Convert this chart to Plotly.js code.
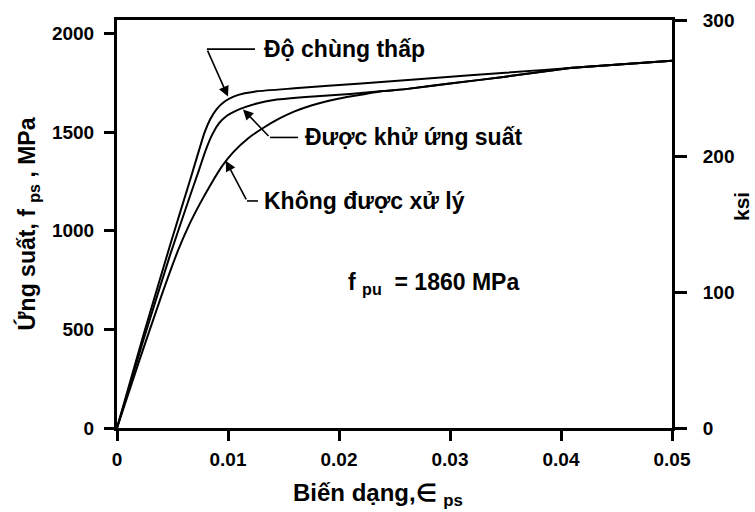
<!DOCTYPE html>
<html>
<head>
<meta charset="utf-8">
<script src="https://cdn.plot.ly/plotly-3.0.1.min.js"></script>
<style>html,body{margin:0;padding:0;background:#fff;}#chart{width:755px;height:512px;}</style>
</head>
<body>
<div id="chart"></div>
<script>
// Strain (epsilon_ps) vs stress (f_ps, MPa) for prestressing strand
const lowRelaxStrain = [0, 0.0024, 0.0048, 0.0066, 0.0074, 0.0079, 0.0084, 0.009, 0.0097, 0.0105, 0.0115, 0.0126, 0.016, 0.022, 0.028, 0.035, 0.042, 0.05];
const lowRelaxStress = [0, 475, 930, 1260, 1410, 1500, 1565, 1618, 1655, 1680, 1697, 1707, 1722, 1747, 1772, 1801, 1830, 1862];

const stressRelievedStrain = [0, 0.0024, 0.0048, 0.0066, 0.0074, 0.008, 0.0086, 0.0092, 0.0099, 0.0107, 0.0116, 0.0126, 0.014, 0.017, 0.021, 0.024, 0.026, 0.03, 0.035, 0.041, 0.042, 0.05];
const stressRelievedStress = [0, 450, 880, 1180, 1310, 1410, 1490, 1545, 1583, 1608, 1628, 1645, 1662, 1678, 1693, 1708, 1718, 1746, 1781, 1826, 1830, 1862];

const asDrawnStrain = [0, 0.002, 0.004, 0.0055, 0.0065, 0.0075, 0.0085, 0.0095, 0.0105, 0.0118, 0.0132, 0.0146, 0.016, 0.0175, 0.019, 0.0205, 0.022, 0.024, 0.026, 0.03, 0.035, 0.041, 0.042, 0.05];
const asDrawnStress = [0, 340, 670, 900, 1030, 1140, 1240, 1330, 1400, 1468, 1522, 1568, 1605, 1635, 1658, 1676, 1690, 1708, 1718, 1746, 1781, 1826, 1830, 1862];

const MPA_PER_KSI = 6.894757;

const xTickVals = [0, 0.01, 0.02, 0.03, 0.04, 0.05];
const xTickText = ["0", "0.01", "0.02", "0.03", "0.04", "0.05"];
const yTickVals = [0, 500, 1000, 1500, 2000];
const y2TickVals = [0, 100, 200, 300];

// Callout labels with leader lines
const labelTexts = ["Độ chùng thấp", "Được khử ứng suất", "Không được xử lý"];
const labelTipX = [0.0100, 0.01135, 0.0098];
const labelTipY = [1680, 1615, 1355];
const labelCornerX = [0.0081, 0.01378, 0.01171];
const labelCornerY = [1921, 1473, 1151];
const labelLineEndX = [0.01243, 0.01631, 0.0127];
const labelTextX = [0.01306, 0.01676, 0.01306];

const fpuText = "f&nbsp;<sub>pu</sub>&nbsp;&nbsp;= 1860 MPa";
const fpuX = 0.0206, fpuY = 735;

const xTitle = "Biến dạng,∈ <sub>ps</sub>";
const yTitle = "Ứng suất, f <sub>ps</sub> , MPa";
const y2Title = "ksi";

const FONT = "Liberation Sans, Arial, sans-serif";
const lineStyle = {color: "#000", width: 2, shape: "spline", smoothing: 0.5};

const traces = [
  {x: lowRelaxStrain, y: lowRelaxStress, mode: "lines", line: lineStyle, name: labelTexts[0], hoverinfo: "skip"},
  {x: stressRelievedStrain, y: stressRelievedStress, mode: "lines", line: lineStyle, name: labelTexts[1], hoverinfo: "skip"},
  {x: asDrawnStrain, y: asDrawnStress, mode: "lines", line: lineStyle, name: labelTexts[2], hoverinfo: "skip"},
  // same low-relaxation curve expressed in ksi, hidden, to carry the right-hand axis
  {x: lowRelaxStrain, y: lowRelaxStress.map(v => v / MPA_PER_KSI), yaxis: "y2", mode: "lines",
   line: {color: "rgba(0,0,0,0)", width: 0}, hoverinfo: "skip", showlegend: false}
];

const W = 755, H = 512, ML = 117, MR = 83, MT = 20, MB = 84;
const pxToPaperX = px => (px - ML) / (W - ML - MR);
const pxToPaperY = py => (H - MB - py) / (H - MT - MB);

const annotations = [];
const shapes = [];
for (let i = 0; i < labelTexts.length; i++) {
  annotations.push({
    x: labelTipX[i], y: labelTipY[i], xref: "x", yref: "y",
    ax: labelCornerX[i], ay: labelCornerY[i], axref: "x", ayref: "y",
    text: "", showarrow: true, arrowhead: 2, arrowsize: 1.3, arrowwidth: 1.6, arrowcolor: "#000", standoff: 0
  });
  shapes.push({type: "line", xref: "x", yref: "y", x0: labelCornerX[i], x1: labelLineEndX[i], y0: labelCornerY[i], y1: labelCornerY[i], line: {color: "#000", width: 1.6}});
  annotations.push({
    x: labelTextX[i], y: labelCornerY[i], xref: "x", yref: "y", xanchor: "left", yanchor: "middle",
    text: "<b>" + labelTexts[i] + "</b>", showarrow: false, font: {family: FONT, size: 23, color: "#000"}
  });
}
annotations.push({
  x: fpuX, y: fpuY, xref: "x", yref: "y", xanchor: "left", yanchor: "middle",
  text: "<b>" + fpuText + "</b>", showarrow: false, font: {family: FONT, size: 23, color: "#000"}
});
// x-axis title (slightly left of plot centre, as in the original)
annotations.push({
  x: pxToPaperX(378), y: pxToPaperY(494), xref: "paper", yref: "paper", showarrow: false,
  text: "<b>" + xTitle + "</b>", font: {family: FONT, size: 24, color: "#000"},
  xanchor: "center", yanchor: "middle"
});
// right-hand axis title
annotations.push({
  x: pxToPaperX(741), y: pxToPaperY(207), xref: "paper", yref: "paper", showarrow: false,
  text: "<b>" + y2Title + "</b>", font: {family: FONT, size: 21, color: "#000"},
  textangle: -90, xanchor: "center", yanchor: "middle", borderpad: 0
});

const axisCommon = {
  showgrid: false, zeroline: false, showline: true, linecolor: "#000", linewidth: 3,
  ticks: "outside", tickcolor: "#000", tickwidth: 3, ticklen: 10,
  tickfont: {family: FONT, size: 19, color: "#000", weight: "bold"}
};

const layout = {
  width: W, height: H,
  margin: {l: ML, r: MR, t: MT, b: MB},
  paper_bgcolor: "#fff", plot_bgcolor: "#fff",
  showlegend: false,
  xaxis: Object.assign({}, axisCommon, {
    range: [0, 0.05], tickvals: xTickVals, ticktext: xTickText, mirror: true,
    ticklabelstandoff: 2
  }),
  yaxis: Object.assign({}, axisCommon, {
    range: [0, 2068.4], tickvals: yTickVals, ticklabelstandoff: 6,
    title: {text: "<b>" + yTitle + "</b>", font: {family: FONT, size: 23, color: "#000"}, standoff: 10}
  }),
  yaxis2: Object.assign({}, axisCommon, {
    range: [0, 300], tickvals: y2TickVals, overlaying: "y", side: "right", ticklen: 12,
    ticklabelstandoff: 12
  }),
  annotations: annotations,
  shapes: shapes
};

Plotly.newPlot("chart", traces, layout, {displayModeBar: false, staticPlot: true});
</script>
</body>
</html>
